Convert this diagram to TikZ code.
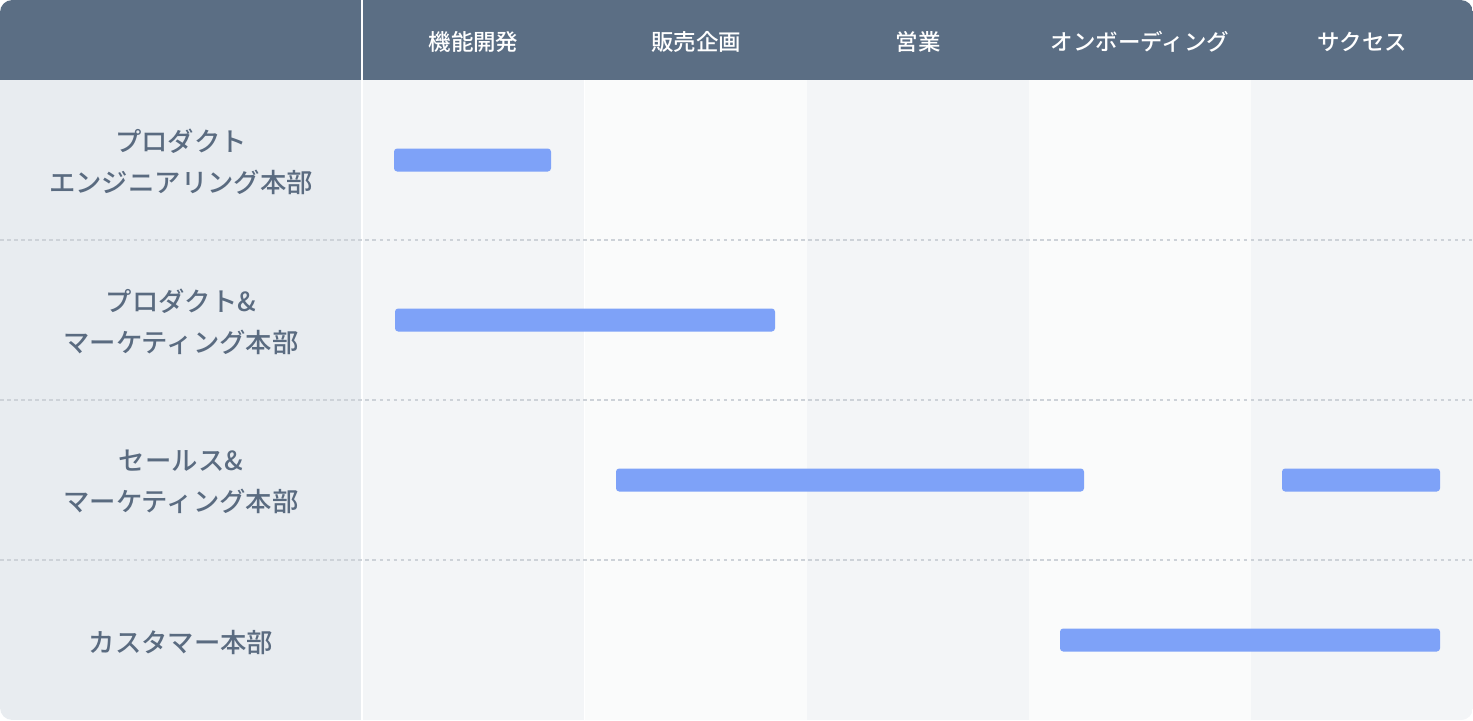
\documentclass[tikz,border=0pt]{standalone}
\usepackage{fontspec}
\setmainfont{Noto Sans CJK JP}[BoldFont={Noto Sans CJK JP Medium}]
\usepackage{tikz}
\usetikzlibrary{positioning}
\definecolor{headbg}{HTML}{5B6E84}
\definecolor{leftbg}{HTML}{E8ECF0}
\definecolor{colA}{HTML}{F3F5F7}
\definecolor{colB}{HTML}{FAFBFB}
\definecolor{labeltext}{HTML}{5A6B80}
\definecolor{barblue}{HTML}{7EA2F8}
\definecolor{sepline}{HTML}{CDD2D8}
\tikzstyle{head}=[text=white, font=\bfseries\fontsize{12.8}{14}\selectfont]
\tikzstyle{dept}=[text=labeltext, align=center, font=\bfseries\fontsize{15}{23.3}\selectfont]
\tikzstyle{bar}=[fill=barblue, rounded corners=1.8pt, minimum height=23*0.02cm, inner sep=0pt]
\tikzstyle{rowsep}=[draw=sepline, line width=0.6pt, dash pattern=on 2pt off 2pt]

\begin{document}
\begin{tikzpicture}[x=0.02cm, y=-0.02cm]
    \useasboundingbox (0,0) rectangle (1473,720);
    \begin{scope}
    \clip[rounded corners=7pt] (0,0) rectangle (1473,720);
    % background of the columns
    \fill[leftbg] (0,80) rectangle (362,720);
    \foreach \x/\c in {362/colA, 585/colB, 807/colA, 1029/colB, 1251/colA}
        \fill[\c] (\x,80) rectangle ++(222,640);
    \fill[colA] (1251,80) rectangle (1473,720);
    \fill[headbg] (0,0) rectangle (1473,80);
    \end{scope}
    \draw[white, line width=0.6pt] (362,0) -- (362,720);

    % dashed lines between the rows
    \foreach \y in {240, 400, 560}
        \draw[rowsep] (0,\y) -- (1473,\y);

    % column heads
    \foreach \pos/\name/\txt in {{(473.5,42)/C_1/機能開発}, {(696,42)/C_2/販売企画}, {(918,42)/C_3/営業}, {(1140,42)/C_4/オンボーディング}, {(1362,42)/C_5/サクセス}}
        \node[head] (\name) at \pos {\txt};

    % departments
    \foreach \pos/\name/\txt in {{(181,162)/D_1/プロダクト\\エンジニアリング本部}, {(181,322)/D_2/プロダクト\&\\マーケティング本部}, {(181,482)/D_3/セールス\&\\マーケティング本部}, {(181,642)/D_4/カスタマー本部}}
        \node[dept] (\name) at \pos {\txt};

    % bars
    \node[bar, minimum width=157*0.02cm] (B_1) at (472.5,160) {};
    \node[bar, minimum width=380*0.02cm] (B_2) at (585,320) {};
    \node[bar, minimum width=468*0.02cm] (B_3) at (850,480) {};
    \node[bar, minimum width=158*0.02cm] (B_4) at (1361,480) {};
    \node[bar, minimum width=380*0.02cm] (B_5) at (1250,640) {};
\end{tikzpicture}
\end{document}
